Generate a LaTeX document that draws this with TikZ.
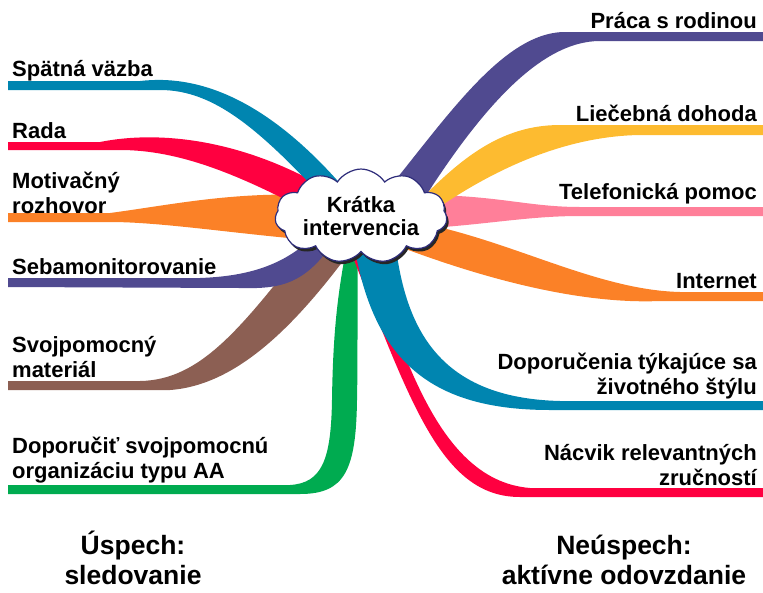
\documentclass[tikz,border=0pt]{standalone}
\usepackage{fontspec}
\setmainfont{Liberation Sans}
\usetikzlibrary{shapes.symbols,shadows}

\definecolor{cblue}{HTML}{0085B0}
\definecolor{cred}{HTML}{FF0040}
\definecolor{corange}{HTML}{FB8127}
\definecolor{cpurple}{HTML}{504A90}
\definecolor{cbrown}{HTML}{8C5F53}
\definecolor{cgreen}{HTML}{00AB50}
\definecolor{cyellow}{HTML}{FDBB30}
\definecolor{cpink}{HTML}{FF7F99}
\definecolor{cedge}{HTML}{2E2C7A}

\tikzset{
  lbl/.style={font=\fontsize{22}{24.5}\selectfont\bfseries, inner sep=0pt, align=left, anchor=base west},
  rbl/.style={font=\fontsize{22}{24.5}\selectfont\bfseries, inner sep=0pt, align=right, anchor=base east},
  res/.style={font=\fontsize{26.5}{29.5}\selectfont\bfseries, inner sep=0pt, align=center, anchor=base},
  hub/.style={cloud, cloud puffs=11, cloud puff arc=115, aspect=2.3,
    minimum width=172pt, minimum height=76pt, inner sep=0pt,
    draw=cedge, line width=1.2pt, fill=white,
    font=\fontsize{22}{23.5}\selectfont\bfseries, align=center,
    drop shadow={shadow xshift=2pt, shadow yshift=-3pt, fill=black!85, opacity=1}}
}

\begin{document}
\begin{tikzpicture}[x=1pt, y=-1pt]
    \useasboundingbox (0,0) rectangle (763,592);
    % left side
    \fill[cgreen] (8,485) -- (290,485) .. controls (322,483) and (331,460) .. (332,400)
        .. controls (333,330) and (338,290) .. (348,240) -- (358,240)
        .. controls (357,300) and (358,350) .. (357,400)
        .. controls (356,470) and (345,494) .. (300,494) -- (8,494) -- cycle;
    \fill[cbrown] (8,381) -- (140,381) .. controls (200,380) and (240,330) .. (310,240)
        -- (355,245) .. controls (300,320) and (240,385) .. (170,390) -- (8,390) -- cycle;
    \fill[cpurple] (8,278) -- (200,278) .. controls (255,276) and (290,262) .. (320,230)
        -- (335,240) .. controls (305,285) and (280,289) .. (240,288) -- (8,287) -- cycle;
    \fill[corange] (8,213) -- (110,213) .. controls (170,205) and (230,192) .. (310,195)
        -- (310,240) .. controls (230,233) and (160,222) .. (110,222) -- (8,222) -- cycle;
    \fill[cred] (8,142) -- (100,142) .. controls (160,130) and (240,140) .. (320,185)
        -- (315,215) .. controls (240,175) and (180,150) .. (120,150) -- (8,150) -- cycle;
    \fill[cblue] (8,81) -- (140,81) .. controls (200,74) and (270,100) .. (350,195)
        -- (330,205) .. controls (260,130) and (215,90) .. (160,90) -- (8,90) -- cycle;
    % right side
    \fill[cred] (362,245) .. controls (400,330) and (430,480) .. (530,488) -- (763,488)
        -- (763,497) -- (520,497) .. controls (440,497) and (410,400) .. (348,245) -- cycle;
    \fill[cblue] (395,240) .. controls (405,330) and (440,398) .. (560,401) -- (763,401)
        -- (763,410) -- (550,410) .. controls (430,410) and (375,360) .. (355,250) -- cycle;
    \fill[corange] (430,225) .. controls (520,245) and (600,290) .. (680,292) -- (763,292)
        -- (763,301) -- (660,301) .. controls (590,304) and (500,285) .. (395,245) -- cycle;
    \fill[cpink] (430,195) .. controls (500,196) and (530,207) .. (580,207) -- (763,207)
        -- (763,216) -- (580,216) .. controls (530,216) and (490,224) .. (430,228) -- cycle;
    \fill[cyellow] (420,200) .. controls (460,160) and (500,125) .. (560,125) -- (763,125)
        -- (763,135) -- (640,135) .. controls (570,136) and (500,165) .. (435,210) -- cycle;
    \fill[cpurple] (375,205) .. controls (440,128) and (500,32) .. (565,32) -- (763,32)
        -- (763,41) -- (600,41) .. controls (540,41) and (480,110) .. (420,205) -- cycle;

    \node[hub] (kratka) at (361,216) {Krátka\\intervencia};

    \node[lbl] (spatna) at (12,76) {Spätná väzba};
    \node[lbl] (rada) at (12,138) {Rada};
    \node[lbl] (motiv) at (12,213) {Motivačný\\rozhovor};
    \node[lbl] (sebam) at (12,274) {Sebamonitorovanie};
    \node[lbl] (svojp) at (12,377) {Svojpomocný\\materiál};
    \node[lbl] (organ) at (12,478) {Doporučiť svojpomocnú\\organizáciu typu AA};

    \node[rbl] (rodina) at (757,28) {Práca s rodinou};
    \node[rbl] (dohoda) at (757,121) {Liečebná dohoda};
    \node[rbl] (telef) at (757,199) {Telefonická pomoc};
    \node[rbl] (inter) at (757,288) {Internet};
    \node[rbl] (styl) at (757,394) {Doporučenia týkajúce sa\\životného štýlu};
    \node[rbl] (nacvik) at (757,485) {Nácvik relevantných\\zručností};

    \node[res] (uspech) at (133,584) {Úspech:\\sledovanie};
    \node[res] (neusp) at (624,584) {Neúspech:\\aktívne odovzdanie};
\end{tikzpicture}
\end{document}
